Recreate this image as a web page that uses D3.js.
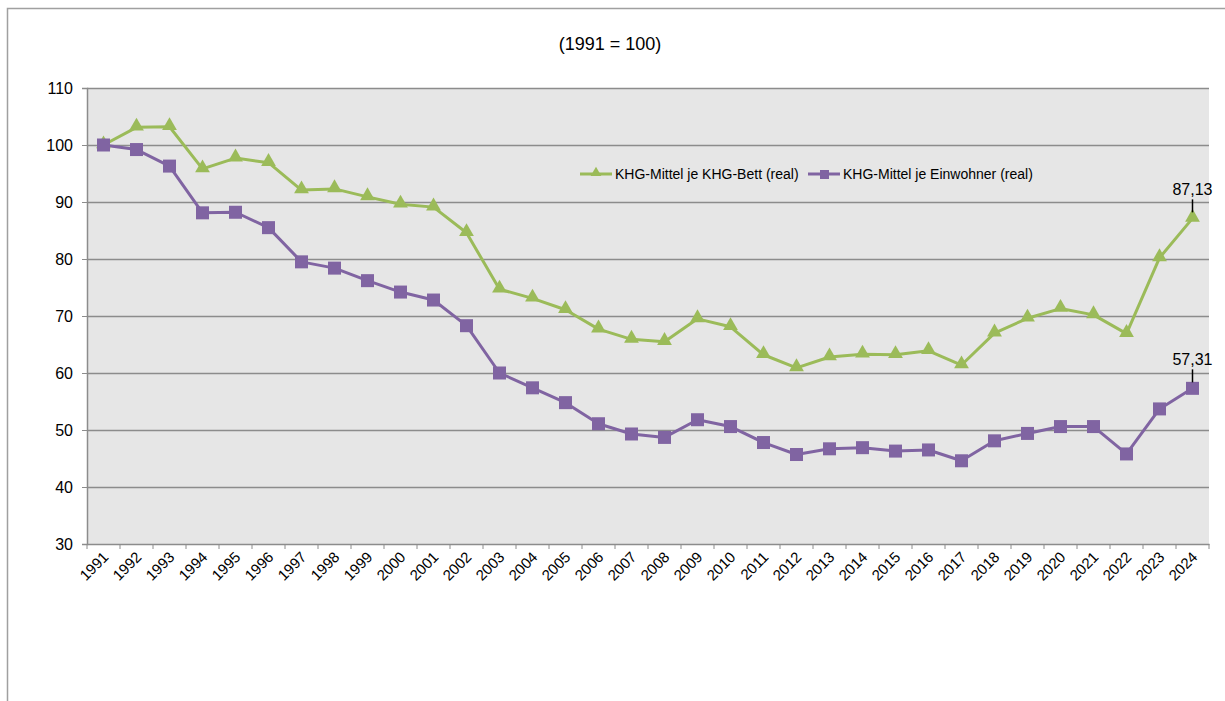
<!DOCTYPE html>
<html><head><meta charset="utf-8">
<script src="https://cdn.jsdelivr.net/npm/d3@7"></script>
<style>body{margin:0;background:#fff;}svg{display:block;font-family:"Liberation Sans",Arial,sans-serif;}</style>
</head><body>
<svg id="c" width="1225" height="701"></svg>
<script>
const years = ["1991","1992","1993","1994","1995","1996","1997","1998","1999","2000","2001","2002","2003","2004","2005","2006","2007","2008","2009","2010","2011","2012","2013","2014","2015","2016","2017","2018","2019","2020","2021","2022","2023","2024"];
const bettValues = [100,103.1,103.2,95.8,97.7,96.9,92.1,92.3,90.9,89.6,89.1,84.6,74.7,73.1,71.1,67.7,65.9,65.5,69.5,68.1,63.2,60.9,62.8,63.3,63.2,63.9,61.4,67.0,69.6,71.3,70.2,66.9,80.2,87.13];
const einwValues = [100,99.2,96.3,88.1,88.2,85.5,79.5,78.4,76.2,74.2,72.8,68.3,60.0,57.4,54.8,51.1,49.3,48.7,51.8,50.6,47.8,45.7,46.7,46.9,46.3,46.5,44.6,48.1,49.4,50.6,50.6,45.8,53.7,57.31];
const yTicks = [30,40,50,60,70,80,90,100,110];
const seriesNames = ["KHG-Mittel je KHG-Bett (real)","KHG-Mittel je Einwohner (real)"];
const colors = ["#9BBB59","#8064A2"];
const title = "(1991 = 100)";
const labels = ["87,13","57,31"];

const svg = d3.select("#c");
svg.append("path").attr("d","M7.5,701 V8.5 H1225").attr("fill","none").attr("stroke","#a0a0a0").attr("stroke-width",1.5);

const L=87, R=1209, T=88, B=544;
const x = d3.scaleBand().domain(years).range([L,R]);
const y = d3.scaleLinear().domain([30,110]).range([B,T]);

svg.append("rect").attr("x",L).attr("y",T).attr("width",R-L).attr("height",B-T).attr("fill","#E6E6E6");

svg.append("g").selectAll("line").data(yTicks.slice(1)).join("line")
  .attr("x1",L).attr("x2",R).attr("y1",d=>Math.round(y(d))+0.5).attr("y2",d=>Math.round(y(d))+0.5)
  .attr("stroke","#8c8c8c").attr("stroke-width",1.3);

const ya = svg.append("g").attr("transform",`translate(${L},0)`)
  .call(d3.axisLeft(y).tickValues(yTicks).tickSize(5).tickPadding(9).tickFormat(d3.format("d")));
ya.attr("font-size",null).attr("font-family",null);
ya.select(".domain").attr("stroke","#8c8c8c").attr("stroke-width",1.5);
ya.selectAll(".tick line").attr("stroke","#8c8c8c");
ya.selectAll("text").style("font-size","16px").attr("fill","#000");

const xa = svg.append("g").attr("transform",`translate(0,${B})`)
  .call(d3.axisBottom(x).tickSize(0).tickFormat(d=>d));
xa.attr("font-size",null).attr("font-family",null);
xa.select(".domain").attr("stroke","#8c8c8c").attr("stroke-width",1.5);
xa.selectAll(".tick line").remove();
const bounds = years.map(d=>x(d)).concat([R]);
svg.append("g").selectAll("line").data(bounds).join("line")
  .attr("x1",d=>d).attr("x2",d=>d).attr("y1",B).attr("y2",B+5).attr("stroke","#8c8c8c");
xa.selectAll("text").style("font-size","15px").attr("fill","#000")
  .attr("text-anchor","end").attr("dy",null).attr("y",0)
  .attr("transform","translate(6,14) rotate(-45)");

const cx = d=>x(d)+x.bandwidth()/2;
const line = d3.line().x((d,i)=>cx(years[i])).y(d=>y(d));

[bettValues,einwValues].forEach((vals,k)=>{
  svg.append("path").datum(vals).attr("d",line).attr("fill","none")
    .attr("stroke",colors[k]).attr("stroke-width",3).attr("stroke-linejoin","round");
});
const tri = d3.symbol().type(d3.symbolTriangle).size(95);
svg.append("g").selectAll("path").data(bettValues).join("path")
  .attr("d",tri).attr("transform",(d,i)=>`translate(${cx(years[i])},${y(d)-1})`).attr("fill",colors[0]);
svg.append("g").selectAll("rect").data(einwValues).join("rect")
  .attr("x",(d,i)=>cx(years[i])-6.5).attr("y",d=>y(d)-6.5).attr("width",13).attr("height",13).attr("fill",colors[1]);

[bettValues,einwValues].forEach((vals,k)=>{
  const v = vals[vals.length-1];
  const px = cx(years[years.length-1]);
  svg.append("line").attr("x1",px).attr("x2",px).attr("y1",y(v)-6).attr("y2",y(v)-19).attr("stroke","#000").attr("stroke-width",1.5);
  svg.append("text").attr("x",px).attr("y",y(v)-23).attr("text-anchor","middle")
    .style("font-size","16px").text(labels[k]);
});

svg.append("text").attr("x",610).attr("y",50).attr("text-anchor","middle").style("font-size","18px").text(title);

const lg = [{x:580,k:0},{x:808,k:1}];
lg.forEach(o=>{
  const g = svg.append("g");
  g.append("line").attr("x1",o.x).attr("x2",o.x+32).attr("y1",174).attr("y2",174).attr("stroke",colors[o.k]).attr("stroke-width",3);
  if(o.k===0) g.append("path").attr("d",d3.symbol().type(d3.symbolTriangle).size(50)).attr("transform",`translate(${o.x+16},173)`).attr("fill",colors[0]);
  else g.append("rect").attr("x",o.x+12).attr("y",170).attr("width",9).attr("height",9).attr("fill",colors[1]);
  g.append("text").attr("x",o.x+35).attr("y",179).style("font-size","14px").text(seriesNames[o.k]);
});
</script>
</body></html>
